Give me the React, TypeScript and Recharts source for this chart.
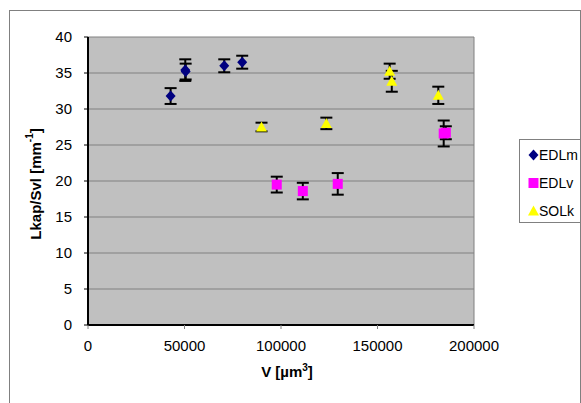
import React from 'react'
import {
  ScatterChart,
  Scatter,
  XAxis,
  YAxis,
  CartesianGrid,
  ErrorBar,
  ReferenceLine,
} from 'recharts'

// V [µm³] / Lkap/Svl [mm⁻¹] / error bar half-height
const edlmV = [42800, 50400, 50600, 70600, 79900]
const edlmY = [31.8, 35.4, 35.2, 36.0, 36.5]
const edlmErr = [1.1, 1.5, 1.1, 0.9, 0.9]

const edlvV = [97800, 111300, 129400, 184300, 185400]
const edlvY = [19.5, 18.6, 19.6, 26.6, 26.7]
const edlvErr = [1.1, 1.15, 1.5, 1.8, 0.9]

const solkV = [89900, 123500, 156300, 157400, 181500]
const solkY = [27.5, 28.0, 35.25, 33.85, 31.9]
const solkErr = [0.6, 0.8, 1.05, 1.45, 1.2]

const xTicks = [0, 50000, 100000, 150000, 200000]
const yTicks = [0, 5, 10, 15, 20, 25, 30, 35, 40]

const seriesNames = ['EDLm', 'EDLv', 'SOLk']
const seriesColors = ['#000080', '#FF00FF', '#FFFF00']

const toRows = (v: number[], y: number[], e: number[]) =>
  v.map((x, i) => ({ v: x, y: y[i], err: e[i] }))

const FONT = '"Liberation Sans", Arial, sans-serif'

const Diamond = ({ cx, cy, fill }: any) => (
  <polygon
    points={`${cx},${cy - 5.5} ${cx + 5},${cy} ${cx},${cy + 5.5} ${cx - 5},${cy}`}
    fill={fill}
  />
)
const Square = ({ cx, cy, fill }: any) => (
  <rect x={cx - 5} y={cy - 5} width={10} height={10} fill={fill} />
)
const Triangle = ({ cx, cy, fill }: any) => (
  <polygon
    points={`${cx},${cy - 5.5} ${cx + 5.5},${cy + 4.5} ${cx - 5.5},${cy + 4.5}`}
    fill={fill}
  />
)
const shapes = [Diamond, Square, Triangle]

function LegendMarker({ i }: { i: number }) {
  const Shape = shapes[i]
  return (
    <svg width={11} height={12} style={{ display: 'block' }}>
      <Shape cx={5.5} cy={6} fill={seriesColors[i]} />
    </svg>
  )
}

function YLabel({ viewBox }: any) {
  const x = (viewBox?.x ?? 20) + 7
  const y = (viewBox?.y ?? 29) + (viewBox?.height ?? 288) / 2 + 3
  return (
    <text
      x={x}
      y={y}
      transform={`rotate(-90 ${x} ${y})`}
      textAnchor="middle"
      dominantBaseline="central"
      fontSize={15}
      fontWeight="bold"
      fill="#000"
    >
      Lkap/Svl [mm
      <tspan dy={-6} fontSize={10}>
        -1
      </tspan>
      <tspan dy={6}>]</tspan>
    </text>
  )
}

function XLabel({ viewBox }: any) {
  const x = (viewBox?.x ?? 80) + (viewBox?.width ?? 386) / 2 + 6
  const y = (viewBox?.y ?? 317) + 52
  return (
    <text x={x} y={y} textAnchor="middle" fontSize={15} fontWeight="bold" fill="#000">
      V [µm
      <tspan dy={-6} fontSize={10}>
        3
      </tspan>
      <tspan dy={6}>]</tspan>
    </text>
  )
}

export default function App() {
  const data = [
    toRows(edlmV, edlmY, edlmErr),
    toRows(edlvV, edlvY, edlvErr),
    toRows(solkV, solkY, solkErr),
  ]

  return (
    <div
      style={{
        position: 'relative',
        width: 581,
        height: 403,
        overflow: 'hidden',
        fontFamily: FONT,
        background: '#fff',
      }}
    >
      <style>{'body{margin:0;overflow:hidden}'}</style>
      <div
        style={{
          position: 'absolute',
          left: 9,
          top: 10,
          width: 570,
          height: 400,
          border: '1px solid #808080',
        }}
      />
      <ScatterChart
        width={573}
        height={395}
        margin={{ top: 29, right: 107, bottom: 48, left: 20 }}
        style={{ position: 'absolute', left: 8, top: 8 }}
      >
        <CartesianGrid fill="#C0C0C0" stroke="#808080" vertical={false} />
        <XAxis
          type="number"
          dataKey="v"
          domain={[0, 200000]}
          ticks={xTicks}
          interval={0}
          height={30}
          tickSize={4}
          tickMargin={11}
          tick={{ fontSize: 15, fill: '#000' }}
          axisLine={{ stroke: '#000', strokeWidth: 2 }}
          tickLine={{ stroke: '#808080' }}
          label={{ content: (p: any) => <XLabel viewBox={p.viewBox} /> }}
        />
        <YAxis
          type="number"
          dataKey="y"
          domain={[0, 40]}
          ticks={yTicks}
          interval={0}
          width={60}
          tickSize={4}
          tickMargin={12}
          tick={{ fontSize: 15, fill: '#000' }}
          axisLine={{ stroke: '#000', strokeWidth: 2 }}
          tickLine={{ stroke: '#000' }}
          label={{ content: (p: any) => <YLabel viewBox={p.viewBox} /> }}
        />
        <ReferenceLine x={200000} stroke="#808080" />
        {data.map((rows, i) => (
          <Scatter
            key={seriesNames[i]}
            name={seriesNames[i]}
            data={rows}
            fill={seriesColors[i]}
            shape={shapes[i]}
            isAnimationActive={false}
          >
            <ErrorBar
              dataKey="err"
              direction="y"
              width={6}
              stroke="#000"
              strokeWidth={2}
              isAnimationActive={false}
            />
          </Scatter>
        ))}
      </ScatterChart>
      <div
        style={{
          position: 'absolute',
          left: 519,
          top: 139,
          width: 60,
          height: 82,
          border: '1px solid #808080',
          background: '#fff',
        }}
      >
        {seriesNames.map((name, i) => (
          <div
            key={name}
            style={{
              position: 'absolute',
              left: 8,
              top: 6 + i * 28,
              display: 'flex',
              alignItems: 'center',
              fontSize: 14,
              lineHeight: '18px',
            }}
          >
            <LegendMarker i={i} />
            <span>{name}</span>
          </div>
        ))}
      </div>
    </div>
  )
}
